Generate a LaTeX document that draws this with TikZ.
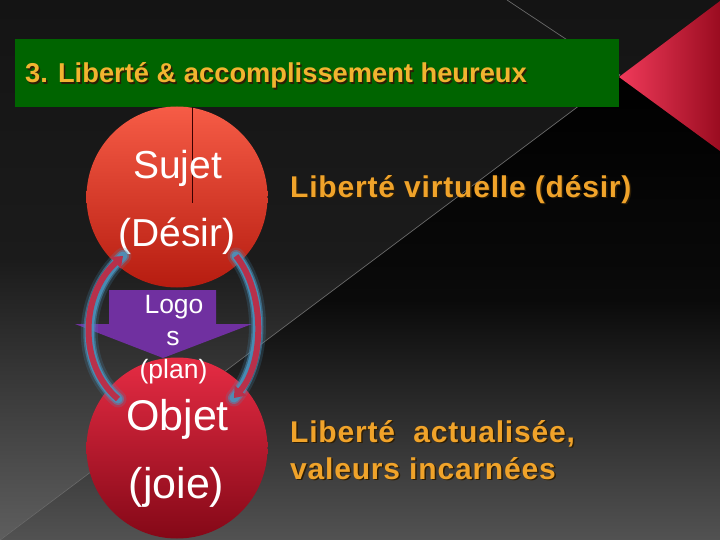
\documentclass[tikz,border=0pt]{standalone}
\usepackage{fontspec}
\setmainfont{Liberation Sans}
\newfontfamily\rtbold[LetterSpace=2.7]{Liberation Sans}
\usetikzlibrary{arrows.meta}
\definecolor{bgtop}{HTML}{141414}
\definecolor{bgmid}{HTML}{1B1B1B}
\definecolor{bgbot}{HTML}{5E5E5E}
\definecolor{wtop}{HTML}{000000}
\definecolor{wmid}{HTML}{0A0A0A}
\definecolor{wbot}{HTML}{525252}
\definecolor{diagline}{HTML}{6A6A6A}
\definecolor{boxgreen}{HTML}{006400}
\definecolor{titleor}{HTML}{F2B430}
\definecolor{txtor}{HTML}{F0A32A}
\definecolor{shadowc}{HTML}{2E1E05}
\definecolor{c1top}{HTML}{F65C46}
\definecolor{c1bot}{HTML}{B61C10}
\definecolor{c2top}{HTML}{E62C44}
\definecolor{c2bot}{HTML}{840817}
\definecolor{logos}{HTML}{7030A0}
\definecolor{arrred}{HTML}{B8304A}
\definecolor{glow}{HTML}{4A92BC}
\definecolor{tri1}{HTML}{F03A5A}
\definecolor{tri2}{HTML}{9A0C20}
\definecolor{splitline}{HTML}{3A0000}
\tikzset{
  txt/.style={inner sep=0pt, anchor=base},
  txtw/.style={inner sep=0pt, anchor=base west},
  ball/.style={circle, inner sep=0pt, minimum size=181pt, draw=none},
  glowline/.style={line width=#1, color=glow, line cap=round},
  redarrow/.style={line width=6pt, color=arrred, -{Triangle[length=10pt,width=15pt]}},
}
\begin{document}
\begin{tikzpicture}[x=1pt,y=-1pt]
\useasboundingbox (0,0) rectangle (720,540);
% background
\fill[top color=bgtop, bottom color=bgmid] (0,0) rectangle (720,260);
\fill[top color=bgmid, bottom color=bgbot] (0,260) rectangle (720,540);
\begin{scope}
  \clip (620,75) -- (720,75) -- (720,540) -- (0,540) -- cycle;
  \fill[top color=wtop, bottom color=wmid] (0,75) rectangle (720,300);
  \fill[top color=wmid, bottom color=wbot] (0,300) rectangle (720,540);
\end{scope}
\draw[diagline, line width=0.7pt] (507,0) -- (620,75) -- (0,540);
% red triangle
\shade[left color=tri1, right color=tri2] (619,77) -- (720,1) -- (720,151) -- cycle;
% title banner
\node[fill=boxgreen, inner sep=0pt, minimum width=604pt, minimum height=68pt, anchor=north west] (banner) at (15,39) {};
\node[txtw, text=shadowc] (titlesh) at (26.5,84.5) {\fontsize{27.3}{30}\selectfont\bfseries 3. Liberté \& accomplissement heureux};
\node[txtw, text=titleor] (title) at (25,83) {\fontsize{27.3}{30}\selectfont\bfseries 3. Liberté \& accomplissement heureux};
% circles
\node[ball, top color=c1top, bottom color=c1bot] (sujet) at (177,197) {};
\node[ball, top color=c2top, bottom color=c2bot] (objet) at (177,448) {};
\draw[splitline, line width=0.8pt] (192,107) -- (192,203);
\node[txt, text=white] (sujett) at (177.5,179) {\fontsize{39}{39}\selectfont Sujet};
\node[txt, text=white] (desirt) at (177,247) {\fontsize{39}{39}\selectfont (Désir)};
\node[txt, text=white] (objett) at (177.5,430) {\fontsize{43}{43}\selectfont Objet};
\node[txt, text=white] (joiet) at (176.5,498) {\fontsize{43}{43}\selectfont (joie)};
% purple block arrow
\fill[logos] (109,290) -- (216,290) -- (216,324) -- (252,324) -- (163,358) -- (75,324) -- (109,324) -- cycle;
\node[txt, text=white] (logo1) at (174,313) {\fontsize{26.5}{26.5}\selectfont Logo};
\node[txt, text=white] (logo2) at (173,345) {\fontsize{26.5}{26.5}\selectfont s};
\node[txt, text=white] (logo3) at (173.5,378) {\fontsize{26.5}{26.5}\selectfont (plan)};
% curved arrows
\coordinate (la) at (118,399);
\coordinate (lb) at (123,256);
\coordinate (ra) at (236,256);
\coordinate (rb) at (234,398);
\foreach \w/\o in {17pt/0.2,12pt/0.5,9pt/0.85}{
  \draw[glowline=\w, opacity=\o] (la) .. controls (78,365) and (80,295) .. (lb);
  \draw[glowline=\w, opacity=\o] (ra) .. controls (265,292) and (265,362) .. (rb);
}
\draw[redarrow] (la) .. controls (78,365) and (80,295) .. (lb);
\draw[redarrow] (ra) .. controls (265,292) and (265,362) .. (rb);
% right texts
\node[txtw, text=shadowc] (virtsh) at (291.5,198.5) {\fontsize{30}{30}\selectfont\rtbold\bfseries Liberté virtuelle (désir)};
\node[txtw, text=txtor] (virt) at (290,197) {\fontsize{30}{30}\selectfont\rtbold\bfseries Liberté virtuelle (désir)};
\node[txtw, text=shadowc] (act1sh) at (291.5,443.5) {\fontsize{30}{30}\selectfont\rtbold\bfseries Liberté\ \ actualisée,};
\node[txtw, text=txtor] (act1) at (290,442) {\fontsize{30}{30}\selectfont\rtbold\bfseries Liberté\ \ actualisée,};
\node[txtw, text=shadowc] (act2sh) at (291.5,480.5) {\fontsize{30}{30}\selectfont\rtbold\bfseries valeurs incarnées};
\node[txtw, text=txtor] (act2) at (290,479) {\fontsize{30}{30}\selectfont\rtbold\bfseries valeurs incarnées};
\end{tikzpicture}
\end{document}
